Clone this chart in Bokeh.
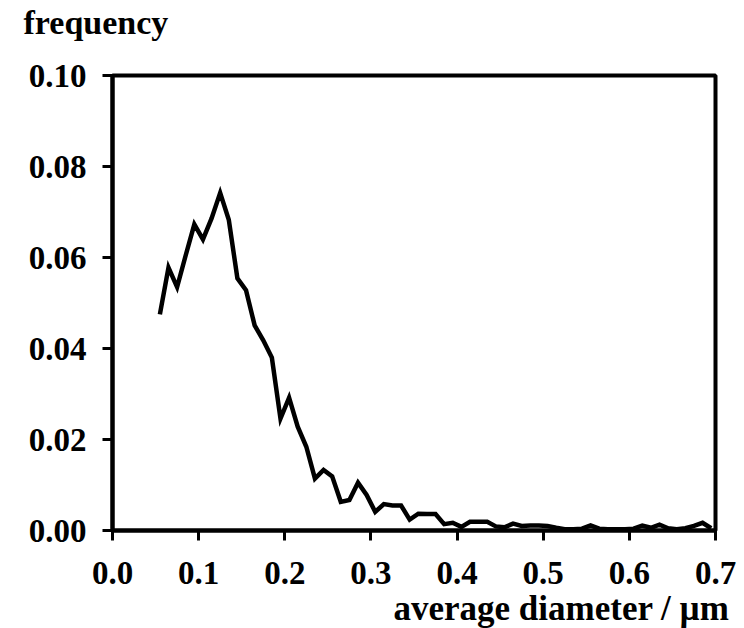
import numpy as np
from bokeh.plotting import figure
from bokeh.models import Range1d, FixedTicker, PrintfTickFormatter, Title
from bokeh.embed import file_html
from bokeh.resources import INLINE

# Particle size distribution: bin centres (µm) and relative frequency
diameter = np.round(np.arange(0.055, 0.70, 0.01), 3)
frequency = [
    0.0475, 0.0578, 0.0535, 0.0605, 0.0673, 0.0640, 0.0686, 0.0742, 0.0683, 0.0554,
    0.0528, 0.0451, 0.0418, 0.0380, 0.0246, 0.0292, 0.0228, 0.0184, 0.0114, 0.0133,
    0.0119, 0.0063, 0.0067, 0.0105, 0.0078, 0.0041, 0.0058, 0.0055, 0.0055, 0.0024,
    0.0037, 0.0036, 0.0036, 0.0014, 0.0017, 0.0008, 0.0019, 0.0019, 0.0019, 0.0009,
    0.0007, 0.0015, 0.0010, 0.0011, 0.0011, 0.0010, 0.0006, 0.0003, 0.0003, 0.0004,
    0.0011, 0.0004, 0.0003, 0.0003, 0.0003, 0.0004, 0.0011, 0.0006, 0.0013, 0.0005,
    0.0003, 0.0005, 0.0010, 0.0017, 0.0005,
]
x_ticks = [0.0, 0.1, 0.2, 0.3, 0.4, 0.5, 0.6, 0.7]
y_ticks = [0.00, 0.02, 0.04, 0.06, 0.08, 0.10]

FONT = "Liberation Serif"

p = figure(
    width=744, height=628,
    x_range=Range1d(0, 0.7), y_range=Range1d(0, 0.10),
    output_backend="svg", toolbar_location=None,
    min_border_left=112, min_border_right=29,
    min_border_top=75, min_border_bottom=98,
)
p.background_fill_color = "white"
p.border_fill_color = "white"
p.outline_line_color = "black"
p.outline_line_width = 4
p.xgrid.visible = False
p.ygrid.visible = False

for ax in (p.xaxis[0], p.yaxis[0]):
    ax.axis_line_width = 4
    ax.axis_line_color = "black"
    ax.major_tick_line_width = 3
    ax.major_tick_line_color = "black"
    ax.major_tick_in = 0
    ax.major_tick_out = 10
    ax.minor_tick_line_color = None
    ax.major_label_text_font = FONT
    ax.major_label_text_font_style = "bold"
    ax.major_label_text_font_size = "33px"
    ax.major_label_text_color = "black"

p.xaxis.ticker = FixedTicker(ticks=x_ticks)
p.yaxis.ticker = FixedTicker(ticks=y_ticks)
p.xaxis.formatter = PrintfTickFormatter(format="%.1f")
p.yaxis.formatter = PrintfTickFormatter(format="%.2f")
p.xaxis.major_label_standoff = 21
p.yaxis.major_label_standoff = 16

p.line(diameter, frequency, line_color="black", line_width=4.5, line_join="miter")

# Blank spacer next to the frame lifts the y quantity name to the top edge
p.add_layout(Title(text=" ", text_font=FONT, text_font_size="24px", standoff=7), "above")
p.add_layout(Title(
    text="frequency", align="left", offset=-89, standoff=0,
    text_font=FONT, text_font_style="bold", text_font_size="34px",
    text_color="black",
), "above")
p.add_layout(Title(
    text="average diameter / µm", align="right", offset=-14, standoff=0,
    text_font=FONT, text_font_style="bold", text_font_size="35px",
    text_color="black",
), "below")

open("out.html", "w").write(file_html(p, INLINE))
